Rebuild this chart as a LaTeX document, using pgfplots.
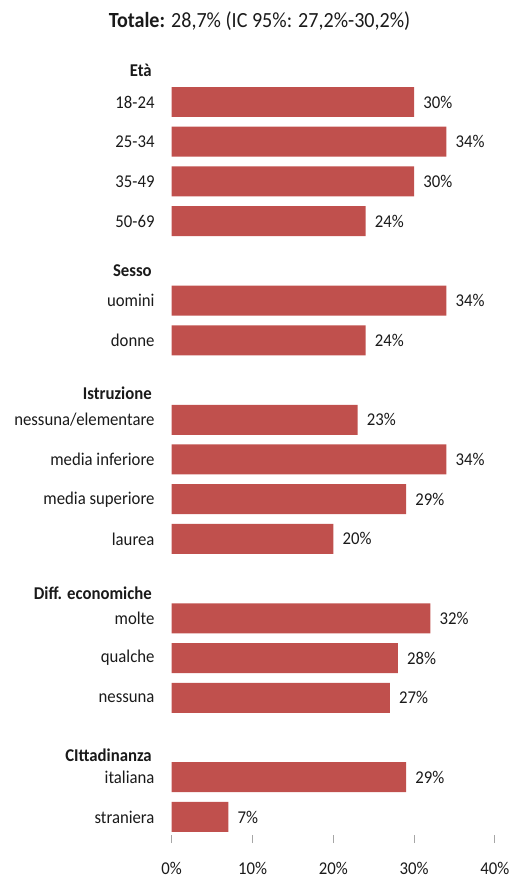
\documentclass[border=0pt]{standalone}
\usepackage{pgfplots}
\pgfplotsset{compat=1.18}
\usepackage{fontspec}
\setmainfont{Carlito}[FakeStretch=0.93]
\definecolor{barred}{HTML}{C0504D}
\definecolor{tickgray}{HTML}{A6A6A6}
\definecolor{txt}{HTML}{1A1A1A}
\begin{document}
\begin{tikzpicture}[font=\fontsize{13.5}{16}\selectfont, text=txt]
\begin{axis}[
  scale only axis,
  width=242.4pt, height=626.1pt,
  xmin=0, xmax=40,
  ymin=-2.568, ymax=18.45,
  y dir=reverse,
  clip=false,
  axis line style={draw=none},
  xtick={0,10,20,30,40},
  xtick pos=bottom,
  tick align=outside,
  major tick length=6.2pt,
  xtick style={draw=tickgray, line width=0.8pt},
  ytick style={draw=none},
  ytick pos=left,
  ytick={0,1,2,3,5,6,8,9,10,11,13,14,15,17,18},
  yticklabels={18-24,25-34,35-49,50-69,uomini,donne,nessuna/elementare,media inferiore,media superiore,laurea,molte,qualche,nessuna,italiana,straniera},
  yticklabel style={anchor=east, inner sep=0pt, xshift=-6.5pt, font=\fontsize{13.5}{16}\selectfont},
  xticklabel={\pgfmathprintnumber{\tick}\%},
  xticklabel style={inner sep=0pt, yshift=-13.8pt, font=\fontsize{13.5}{16}\selectfont},
  /pgf/number format/assume math mode=true,
  xbar, bar width=0.755,
  point meta=x,
  nodes near coords={\pgfmathprintnumber[fixed,precision=0]{\pgfplotspointmeta}\%},
  every node near coord/.style={anchor=west, inner sep=0pt, xshift=6.75pt, font=\fontsize{13.5}{16}\selectfont, text=txt},
]
\addplot[fill=barred, draw=none] coordinates {
  (30,0) (34,1) (30,2) (24,3)
  (34,5) (24,6)
  (23,8) (34,9) (29,10) (20,11)
  (32,13) (28,14) (27,15)
  (29,17) (7,18)
};
\path (axis cs:-21.25,19.537) rectangle (axis cs:42.73,-2.568);
\node[anchor=base, inner sep=0pt, font=\fontsize{16.2}{19}\selectfont] at (axis cs:10.87,-1.888) {\textbf{Totale:} 28,7\% (IC 95\%: 27,2\%-30,2\%)};
\tikzset{hdr/.style={anchor=base east, inner sep=0pt, font=\fontsize{13.5}{16}\selectfont\bfseries}}
\node[hdr] at (axis cs:-2.44,-0.637) {Età};
\node[hdr] at (axis cs:-2.44,4.398) {Sesso};
\node[hdr] at (axis cs:-2.44,7.485) {Istruzione};
\node[hdr] at (axis cs:-2.44,12.521) {Diff. economiche};
\node[hdr] at (axis cs:-2.44,16.608) {CIttadinanza};
\end{axis}
\end{tikzpicture}
\end{document}
